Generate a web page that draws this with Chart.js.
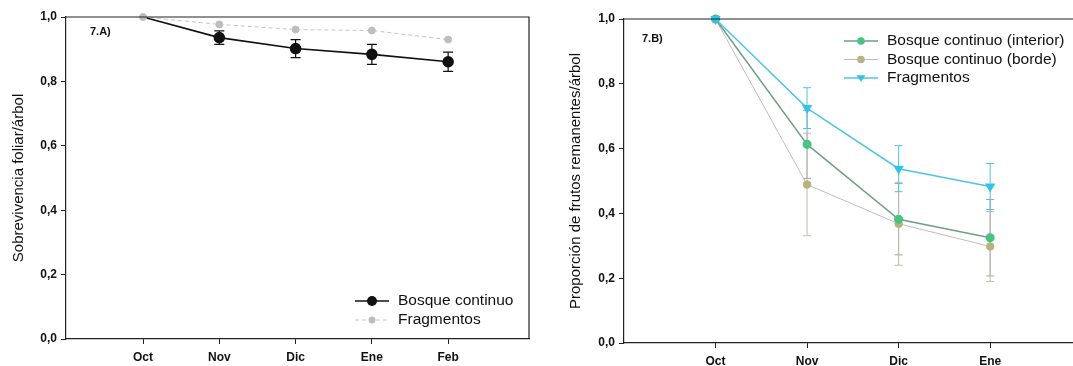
<!DOCTYPE html>
<html>
<head>
<meta charset="utf-8">
<script src="https://cdn.jsdelivr.net/npm/chart.js@4.4.1/dist/chart.umd.min.js"></script>
<style>
  html, body { margin: 0; padding: 0; background: #fff; overflow: hidden; width: 1073px; height: 366px; }
  #left { position: absolute; left: 0; top: 0; width: 540px; height: 366px; }
  #right { position: absolute; left: 540px; top: 0; width: 575px; height: 366px; }
</style>
</head>
<body>
<div id="left"><canvas id="chartA"></canvas></div>
<div id="right"><canvas id="chartB"></canvas></div>
<script>
// panel A: leaf survival
const monthsA = ['Oct', 'Nov', 'Dic', 'Ene', 'Feb'];
const continuoA = [1.0, 0.936, 0.902, 0.884, 0.861];
const continuoErrA = [0, 0.021, 0.028, 0.031, 0.030];
const fragmentosA = [1.0, 0.977, 0.961, 0.958, 0.930];

// panel B: remaining fruits
const monthsB = ['Oct', 'Nov', 'Dic', 'Ene'];
const interiorB = [1.0, 0.613, 0.382, 0.325];
const interiorErrB = [0, 0.105, 0.110, 0.118];
const bordeB = [1.0, 0.489, 0.368, 0.298];
const bordeErrB = [0, 0.158, 0.128, 0.108];
const fragmentosB = [1.0, 0.725, 0.538, 0.483];
const fragmentosErrB = [0, 0.063, 0.071, 0.071];

const yTicks = [0, 0.2, 0.4, 0.6, 0.8, 1.0];

const FONT = '"Liberation Sans", Arial, sans-serif';

function pts(values) {
    return values.map((v, i) => ({ x: i, y: v }));
}

const errorBars = {
    id: 'errorBars',
    beforeDatasetsDraw(chart) {
        const ctx = chart.ctx;
        const xs = chart.scales.x, ys = chart.scales.y;
        chart.data.datasets.forEach(ds => {
            if (!ds.errors) return;
            ctx.save();
            ctx.strokeStyle = ds.errorColor || ds.borderColor;
            ctx.lineWidth = ds.errorWidth || 1;
            ds.data.forEach((p, i) => {
                const e = ds.errors[i];
                if (!e) return;
                const x = xs.getPixelForValue(p.x);
                const y1 = ys.getPixelForValue(p.y + e);
                const y2 = ys.getPixelForValue(p.y - e);
                const c = ds.capWidth || 5;
                ctx.beginPath();
                ctx.moveTo(x, y1); ctx.lineTo(x, y2);
                ctx.moveTo(x - c, y1); ctx.lineTo(x + c, y1);
                ctx.moveTo(x - c, y2); ctx.lineTo(x + c, y2);
                ctx.stroke();
            });
            ctx.restore();
        });
    }
};

const frame = {
    id: 'frame',
    afterDraw(chart) {
        const { ctx, chartArea: a } = chart;
        ctx.save();
        ctx.strokeStyle = '#222';
        ctx.lineWidth = 1.2;
        ctx.beginPath();
        ctx.moveTo(a.left, a.top);
        ctx.lineTo(a.right, a.top);
        ctx.lineTo(a.right, a.bottom);
        ctx.stroke();
        const o = chart.options.plugins.frame;
        ctx.fillStyle = '#111';
        ctx.font = 'bold 11px ' + FONT;
        ctx.textBaseline = 'middle';
        ctx.fillText(o.tag, o.tagX, o.tagY);
        // legend
        ctx.font = o.legendFont + 'px ' + FONT;
        chart.data.datasets.forEach((ds, i) => {
            const y = o.legendY + i * o.legendGap;
            const r = ds.legendRadius || ds.pointRadius;
            ctx.strokeStyle = ds.borderColor;
            ctx.lineWidth = ds.borderWidth;
            ctx.setLineDash(ds.borderDash || []);
            ctx.beginPath();
            ctx.moveTo(o.legendX, y);
            ctx.lineTo(o.legendX + o.legendLine, y);
            ctx.stroke();
            ctx.setLineDash([]);
            const mx = o.legendX + o.legendLine / 2;
            ctx.fillStyle = ds.pointBackgroundColor;
            ctx.beginPath();
            if (ds.pointStyle === 'triangle') {
                ctx.moveTo(mx - r, y - r * 0.6);
                ctx.lineTo(mx + r, y - r * 0.6);
                ctx.lineTo(mx, y + r * 0.9);
                ctx.closePath();
            } else {
                ctx.arc(mx, y, r, 0, Math.PI * 2);
            }
            ctx.fill();
            ctx.fillStyle = '#111';
            ctx.fillText(ds.label, o.legendX + o.legendLine + 9, y);
        });
        ctx.restore();
    }
};

function makeOptions(cfg) {
    return {
        animation: false,
        responsive: true,
        maintainAspectRatio: false,
        layout: { padding: cfg.padding },
        plugins: {
            legend: { display: false },
            tooltip: { enabled: false },
            frame: cfg.frame
        },
        scales: {
            x: {
                type: 'linear',
                min: cfg.xMin,
                max: cfg.xMax,
                afterBuildTicks: s => { s.ticks = cfg.labels.map((l, i) => ({ value: i })); },
                afterFit: s => { s.height = cfg.xHeight; },
                ticks: {
                    callback: v => cfg.labels[v],
                    color: '#111',
                    font: { family: FONT, size: 12, weight: 'bold' },
                    padding: 6,
                    maxRotation: 0,
                    autoSkip: false
                },
                grid: { drawOnChartArea: false, color: '#222', tickLength: 5 },
                border: { color: '#222', width: 1.2 }
            },
            y: {
                min: 0,
                max: 1,
                afterBuildTicks: s => { s.ticks = yTicks.map(v => ({ value: v })); },
                afterFit: s => { s.width = cfg.yWidth; },
                ticks: {
                    callback: v => v.toFixed(1).replace('.', ','),
                    color: '#111',
                    font: { family: FONT, size: 12, weight: 'bold' },
                    padding: 4
                },
                grid: { drawOnChartArea: false, color: '#222', tickLength: 5 },
                border: { color: '#222', width: 1.2 },
                title: {
                    display: true,
                    text: cfg.yTitle,
                    color: '#111',
                    font: { family: FONT, size: 15 },
                    padding: { top: cfg.titlePad, bottom: 4 }
                }
            }
        }
    };
}

new Chart(document.getElementById('chartA'), {
    type: 'line',
    data: {
        datasets: [
            {
                label: 'Bosque continuo',
                data: pts(continuoA),
                errors: continuoErrA,
                borderColor: '#111',
                borderWidth: 1.6,
                pointBackgroundColor: '#111',
                pointBorderColor: '#111',
                // the Oct marker is hidden under the Fragmentos one in the original
                pointRadius: [0, 5, 5, 5, 5],
                legendRadius: 5,
                capWidth: 5,
                errorWidth: 1.2,
                order: 1,
                clip: false
            },
            {
                label: 'Fragmentos',
                data: pts(fragmentosA),
                borderColor: '#c4c4c4',
                borderWidth: 1,
                borderDash: [4, 3],
                pointBackgroundColor: '#bdbdbd',
                pointBorderColor: '#bdbdbd',
                pointRadius: 3.5,
                order: 0,
                clip: false
            }
        ]
    },
    options: makeOptions({
        padding: { top: 17, right: 11, left: 0, bottom: 0 },
        xMin: -1.01, xMax: 5.06, xHeight: 27, yWidth: 66, titlePad: 10,
        labels: monthsA,
        yTitle: 'Sobrevivencia foliar/árbol',
        frame: { tag: '7.A)', tagX: 90, tagY: 32, legendX: 355, legendY: 301, legendGap: 19, legendLine: 34, legendFont: 15.5 }
    }),
    plugins: [errorBars, frame]
});

new Chart(document.getElementById('chartB'), {
    type: 'line',
    data: {
        datasets: [
            {
                label: 'Bosque continuo (interior)',
                data: pts(interiorB),
                errors: interiorErrB,
                borderColor: '#6f9f86',
                borderWidth: 1.5,
                pointBackgroundColor: '#45c57e',
                pointBorderColor: '#45c57e',
                pointRadius: 3.8,
                errorColor: '#9aa89f',
                capWidth: 4,
                order: 1,
                clip: false
            },
            {
                label: 'Bosque continuo (borde)',
                data: pts(bordeB),
                errors: bordeErrB,
                borderColor: '#bdbdbd',
                borderWidth: 1,
                pointBackgroundColor: '#b9b27c',
                pointBorderColor: '#b9b27c',
                pointRadius: 3.8,
                errorColor: '#bdbdb0',
                capWidth: 4,
                order: 2,
                clip: false
            },
            {
                label: 'Fragmentos',
                data: pts(fragmentosB),
                errors: fragmentosErrB,
                borderColor: '#4cc6e6',
                borderWidth: 1.5,
                pointStyle: 'triangle',
                rotation: 180,
                pointBackgroundColor: '#2fc4ec',
                pointBorderColor: '#2fc4ec',
                pointRadius: 4.5,
                capWidth: 4,
                order: 0,
                clip: false
            }
        ]
    },
    options: makeOptions({
        padding: { top: 19, right: 15, left: 0, bottom: 0 },
        xMin: -1, xMax: 4.2, xHeight: 23, yWidth: 84, titlePad: 27,
        labels: monthsB,
        yTitle: 'Proporción de frutos remanentes/árbol',
        frame: { tag: '7.B)', tagX: 102, tagY: 39, legendX: 304, legendY: 41, legendGap: 18.5, legendLine: 34, legendFont: 15.5 }
    }),
    plugins: [errorBars, frame]
});
</script>
</body>
</html>
